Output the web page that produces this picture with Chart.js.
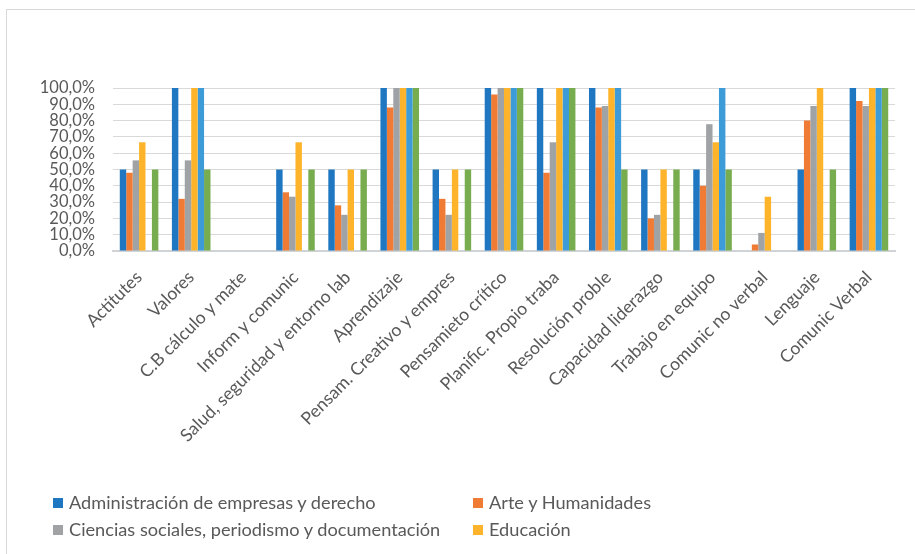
<!DOCTYPE html>
<html>
<head>
<meta charset="utf-8">
<script src="https://cdn.jsdelivr.net/npm/chart.js@4.4.1/dist/chart.umd.min.js"></script>
<style>
    html, body { margin: 0; padding: 0; background: #fff; }
    #wrap { position: relative; width: 915px; height: 554px; overflow: hidden; }
    #frame { position: absolute; left: 6px; top: 9px; width: 1000px; height: 700px; border-left: 1px solid #D9D9D9; border-top: 1px solid #D9D9D9; }
    #chart { position: absolute; left: 0; top: 0; }
    .legend-item { position: absolute; font-family: Lato, sans-serif; font-size: 18.2px; color: #595959; white-space: nowrap; line-height: 22px; }
    .legend-item span.box { display: inline-block; width: 10px; height: 10px; margin-right: 6px; vertical-align: 1px; }
</style>
</head>
<body>
<div id="wrap">
    <div id="frame"></div>
    <canvas id="chart" width="915" height="554"></canvas>
</div>
<script>
const categories = [
    'Actitutes', 'Valores', 'C.B cálculo y mate', 'Inform y comunic',
    'Salud, seguridad y entorno lab', 'Aprendizaje', 'Pensam. Creativo y empres',
    'Pensamieto crítico', 'Planific. Propio traba', 'Resolución proble',
    'Capacidad liderazgo', 'Trabajo en equipo', 'Comunic no verbal',
    'Lenguaje', 'Comunic Verbal'
];

const seriesNames = [
    'Administración de empresas y derecho',
    'Arte y Humanidades',
    'Ciencias sociales, periodismo y documentación',
    'Educación',
    'Serie 5',
    'Serie 6'
];

const adminValues     = [50, 100, 0, 50, 50, 100, 50, 100, 100, 100, 50, 50, 0, 50, 100];
const arteValues      = [48, 32, 0, 36, 28, 88, 32, 96, 48, 88, 20, 40, 4, 80, 92];
const cienciasValues  = [55.6, 55.6, 0, 33.3, 22.2, 100, 22.2, 100, 66.7, 88.9, 22.2, 77.8, 11.1, 88.9, 88.9];
const educacionValues = [66.7, 100, 0, 66.7, 50, 100, 50, 100, 100, 100, 50, 66.7, 33.3, 100, 100];
const serie5Values    = [0, 100, 0, 0, 0, 100, 0, 100, 100, 100, 0, 100, 0, 0, 100];
const serie6Values    = [50, 50, 0, 50, 50, 100, 50, 100, 100, 50, 50, 50, 0, 50, 100];

const seriesColors = ['#1F77C2', '#F07B35', '#A0A3A6', '#FDB42A', '#3D9BD8', '#77AC4F'];
const legendCount = 4;

const allValues = [adminValues, arteValues, cienciasValues, educacionValues, serie5Values, serie6Values];

const datasets = allValues.map((vals, i) => ({
    label: seriesNames[i],
    data: vals,
    backgroundColor: seriesColors[i],
    borderWidth: 0,
    barPercentage: 1,
    categoryPercentage: 0.74
}));

const fontFamily = 'Lato, sans-serif';
const textColor = '#595959';

const ctx = document.getElementById('chart').getContext('2d');
new Chart(ctx, {
    type: 'bar',
    data: { labels: categories, datasets: datasets },
    options: {
        responsive: false,
        animation: false,
        layout: { padding: { left: 0, right: 20, top: 88, bottom: 0 } },
        scales: {
            x: {
                grid: { display: false },
                border: { color: '#D0D3D6', width: 2 },
                ticks: {
                    color: textColor,
                    font: { family: fontFamily, size: 17.6 },
                    minRotation: 45,
                    maxRotation: 45,
                    autoSkip: false,
                    padding: 8,
                    labelOffset: 0
                },
                afterFit: (scale) => { scale.height = 303; }
            },
            y: {
                min: 0,
                max: 100,
                grid: { color: '#D9D9D9', lineWidth: 1, drawTicks: false },
                border: { display: false },
                ticks: {
                    stepSize: 10,
                    autoSkip: false,
                    color: textColor,
                    font: { family: fontFamily, size: 16.5 },
                    padding: 18,
                    callback: (v) => v.toFixed(1).replace('.', ',') + '%'
                },
                afterFit: (scale) => { scale.width = 113; }
            }
        },
        plugins: {
            legend: { display: false },
            tooltip: { enabled: false }
        }
    }
});

// legend in two columns, like the original
const wrap = document.getElementById('wrap');
const legendCols = [53, 473];
const legendRows = [491, 518];
for (let i = 0; i < legendCount; i++) {
    const item = document.createElement('div');
    item.className = 'legend-item';
    item.style.left = legendCols[i % 2] + 'px';
    item.style.top = legendRows[Math.floor(i / 2)] + 'px';
    item.innerHTML = '<span class="box" style="background:' + seriesColors[i] + '"></span>' + seriesNames[i];
    wrap.appendChild(item);
}
</script>
</body>
</html>
